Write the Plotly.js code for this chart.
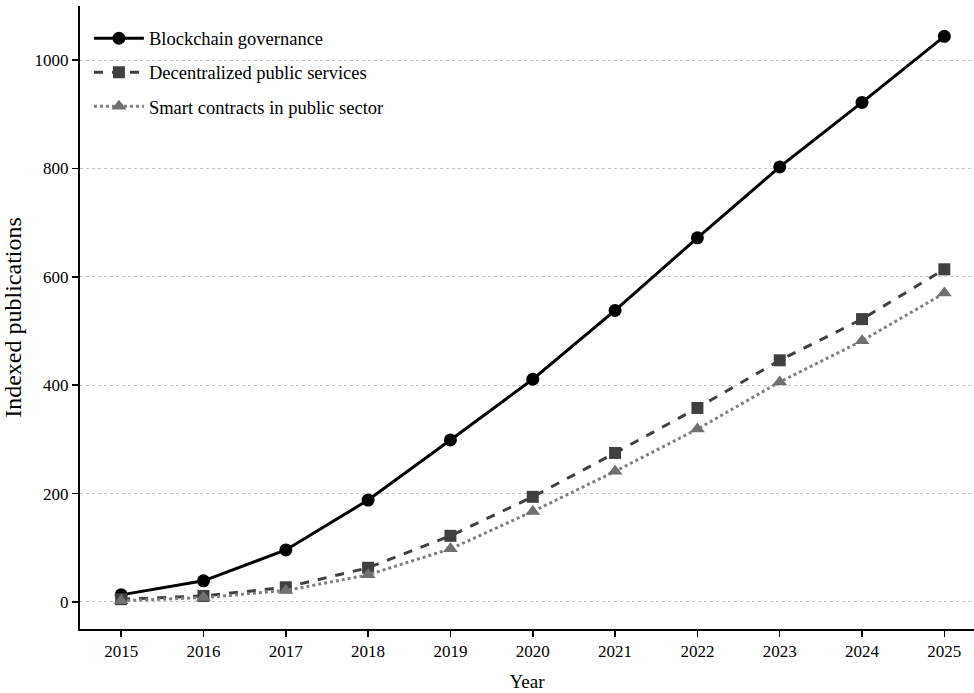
<!DOCTYPE html>
<html>
<head>
<meta charset="utf-8">
<script src="https://cdn.plot.ly/plotly-3.0.1.min.js"></script>
<style>html,body{margin:0;padding:0;background:#fff;}#chart{width:974px;height:693px;}</style>
</head>
<body>
<div id="chart"></div>
<script>
const years = [2015, 2016, 2017, 2018, 2019, 2020, 2021, 2022, 2023, 2024, 2025];
const blockchainGovernance = [13, 39, 96, 188, 299, 411, 538, 672, 803, 922, 1044];
const decentralizedServices = [5, 11, 27, 63, 122, 194, 275, 358, 446, 522, 614];
const smartContracts = [2, 8, 21, 50, 98, 167, 241, 319, 406, 482, 570];
const seriesNames = ["Blockchain governance", "Decentralized public services", "Smart contracts in public sector"];

const font = "Liberation Serif, Times New Roman, serif";
const traces = [
  {x: years, y: blockchainGovernance, name: seriesNames[0], mode: "lines+markers", legendgroup: "a",
   line: {color: "#000000", width: 3, dash: "solid"},
   marker: {symbol: "circle", size: 13, color: "#000000"}},
  {x: years, y: decentralizedServices, name: seriesNames[1], mode: "lines+markers", legendgroup: "b",
   line: {color: "#404040", width: 3, dash: "dash"},
   marker: {symbol: "square", size: 12, color: "#404040"}},
  {x: years, y: smartContracts, name: seriesNames[2], mode: "lines+markers", legendgroup: "c",
   line: {color: "#808080", width: 3, dash: "dot"},
   marker: {symbol: "triangle-up", size: 13, color: "#707070"}}
];
const layout = {
  width: 974, height: 693,
  margin: {l: 80, r: 0, t: 6, b: 64},
  paper_bgcolor: "#fff", plot_bgcolor: "#fff",
  font: {family: font, size: 17, color: "#000"},
  showlegend: true,
  legend: {x: 0.01, y: 0.978, xanchor: "left", yanchor: "top", bgcolor: "rgba(0,0,0,0)",
           traceorder: "grouped", tracegroupgap: 7,
           font: {family: font, size: 18.5, color: "#000"}, itemwidth: 50},
  xaxis: {
    range: [2014.5, 2025.36], tickmode: "array", tickvals: years, ticktext: years.map(String),
    showgrid: false, zeroline: false, showline: true, linecolor: "#000", linewidth: 2,
    ticks: "outside", ticklen: 6, tickwidth: 1.5, tickcolor: "#000",
    tickfont: {family: font, size: 17},
    title: {text: "Year", font: {family: font, size: 19}, standoff: 14}
  },
  yaxis: {
    range: [-50, 1100], tickvals: [0, 200, 400, 600, 800, 1000],
    showgrid: true, gridcolor: "#b8b8b8", griddash: "dot", gridwidth: 0.8,
    zeroline: false, showline: true, linecolor: "#000", linewidth: 2,
    ticks: "outside", ticklen: 6, tickwidth: 1.5, tickcolor: "#000",
    tickfont: {family: font, size: 17},
    title: {text: "Indexed publications", font: {family: font, size: 24}, standoff: 8}
  }
};
Plotly.newPlot("chart", traces, layout, {displayModeBar: false, staticPlot: true});
</script>
</body>
</html>
